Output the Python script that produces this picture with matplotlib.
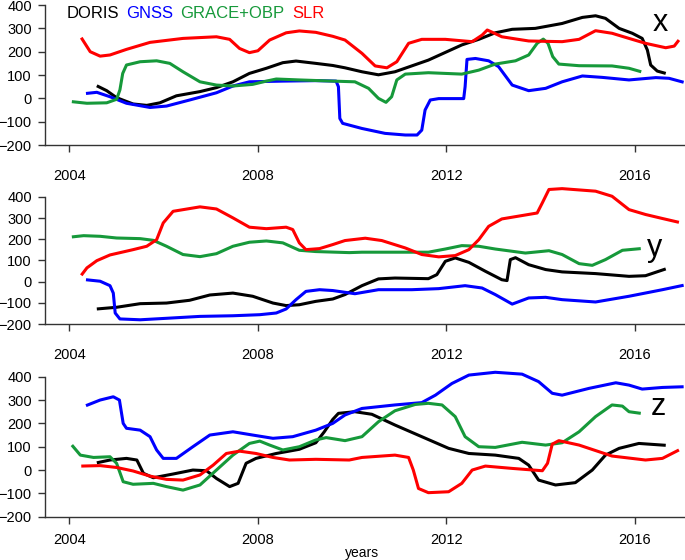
import matplotlib
matplotlib.use("Agg")
import matplotlib.pyplot as plt

plt.rcParams['font.family'] = ['Liberation Sans', 'DejaVu Sans']

# colours of the four techniques
C_DORIS = 'black'
C_GNSS = '#0000ff'
C_GRACE = '#16993a'
C_SLR = '#ff0000'

# ---------------- x component ----------------
x_slr_t = [2004.25, 2004.44, 2004.65, 2004.86, 2005.21, 2005.71, 2006.41, 2007.12, 2007.40, 2007.61,
           2007.82, 2008.0, 2008.25, 2008.6, 2008.88, 2009.23, 2009.59, 2009.85, 2010.21, 2010.49,
           2010.74, 2010.95, 2011.2, 2011.48, 2011.98, 2012.55, 2012.76, 2012.87, 2012.97, 2013.18,
           2013.75, 2014.46, 2014.82, 2015.17, 2015.52, 2015.88, 2016.23, 2016.66, 2016.84, 2016.94]
x_slr_v = [260, 200, 181, 186, 210, 240, 257, 264, 253, 214,
           196, 204, 250, 281, 289, 283, 266, 250, 193, 139,
           131, 157, 236, 253, 253, 243, 271, 293, 284, 264,
           246, 243, 253, 290, 279, 257, 236, 217, 224, 250]

x_doris_t = [2004.58, 2004.79, 2005.0, 2005.35, 2005.64, 2005.92, 2006.27, 2006.77, 2007.12, 2007.47,
             2007.82, 2008.18, 2008.53, 2008.81, 2009.23, 2009.59, 2009.85, 2010.21, 2010.56, 2010.91,
             2011.62, 2012.33, 2012.69, 2013.04, 2013.40, 2013.89, 2014.46, 2014.89, 2015.17, 2015.38,
             2015.67, 2015.95, 2016.16, 2016.27, 2016.34, 2016.48, 2016.66]
x_doris_v = [54, 33, 3, -24, -30, -19, 11, 29, 46, 71,
             107, 129, 153, 160, 150, 141, 131, 114, 101, 114,
             164, 229, 253, 281, 296, 300, 321, 347, 354, 343,
             300, 279, 257, 207, 143, 117, 107]

x_gnss_t = [2004.35, 2004.58, 2004.86, 2005.21, 2005.71, 2006.06, 2006.55, 2007.12, 2007.47, 2007.82,
            2008.53, 2009.23, 2009.66, 2009.71, 2009.74, 2009.80, 2010.21, 2010.70, 2011.13, 2011.38,
            2011.48, 2011.55, 2011.66, 2011.84, 2012.37, 2012.40, 2012.44, 2012.62, 2012.90, 2013.11,
            2013.40, 2013.75, 2014.11, 2014.46, 2014.89, 2015.31, 2015.88, 2016.45, 2016.73, 2017.04]
x_gnss_v = [21, 26, 7, -21, -39, -33, -7, 24, 53, 71,
            74, 76, 74, 50, -86, -107, -129, -150, -157, -157,
            -136, -50, -7, -1, -1, 50, 167, 171, 161, 136,
            57, 33, 43, 71, 96, 90, 79, 89, 86, 69]

x_grace_t = [2004.05, 2004.37, 2004.79, 2005.0, 2005.07, 2005.13, 2005.21, 2005.5, 2005.85, 2006.13,
             2006.41, 2006.77, 2007.12, 2007.47, 2007.89, 2008.18, 2008.39, 2008.88, 2009.59, 2010.06,
             2010.35, 2010.56, 2010.72, 2010.84, 2010.95, 2011.13, 2011.62, 2012.33, 2012.69, 2013.04,
             2013.47, 2013.75, 2013.93, 2014.06, 2014.16, 2014.26, 2014.39, 2014.82, 2015.52, 2015.88,
             2016.14]
x_grace_v = [-14, -21, -19, -4, 36, 107, 143, 157, 161, 150,
             114, 71, 57, 53, 60, 74, 83, 79, 74, 71,
             43, 0, -17, 7, 79, 104, 110, 104, 121, 147,
             161, 186, 236, 254, 236, 179, 147, 140, 139, 129,
             114]

# ---------------- y component ----------------
y_slr_t = [2004.25, 2004.37, 2004.58, 2004.86, 2005.35, 2005.64, 2005.85, 2005.99, 2006.20, 2006.77,
           2007.12, 2007.47, 2007.82, 2008.18, 2008.60, 2008.74, 2008.88, 2009.02, 2009.31, 2009.59,
           2009.85, 2010.28, 2010.63, 2011.13, 2011.48, 2011.84, 2012.19, 2012.48, 2012.69, 2012.90,
           2013.18, 2013.61, 2013.93, 2014.04, 2014.18, 2014.46, 2015.17, 2015.52, 2015.88, 2016.23,
           2016.59, 2016.94]
y_slr_v = [30, 65, 99, 126, 151, 167, 198, 277, 332, 353,
           343, 301, 257, 250, 257, 246, 183, 151, 156, 175,
           194, 205, 194, 159, 128, 117, 123, 151, 198, 261,
           296, 312, 324, 372, 435, 439, 427, 403, 340, 317,
           298, 280]

y_grace_t = [2004.05, 2004.30, 2004.65, 2005.0, 2005.50, 2005.78, 2006.06, 2006.41, 2006.77, 2007.12,
             2007.47, 2007.82, 2008.18, 2008.53, 2008.88, 2009.23, 2009.94, 2010.21, 2010.91, 2011.62,
             2011.98, 2012.33, 2012.69, 2013.04, 2013.68, 2014.18, 2014.46, 2014.82, 2015.10, 2015.38,
             2015.74, 2016.13]
y_grace_v = [211, 217, 214, 206, 203, 195, 167, 128, 118, 132,
             167, 186, 192, 183, 148, 142, 137, 139, 139, 139,
             154, 170, 167, 154, 135, 146, 128, 85, 77, 104,
             148, 156]

y_doris_t = [2004.58, 2005.0, 2005.50, 2006.06, 2006.55, 2006.98, 2007.47, 2007.89, 2008.32, 2008.60,
             2008.88, 2009.23, 2009.59, 2009.85, 2010.21, 2010.56, 2010.91, 2011.62, 2011.80, 2011.98,
             2012.19, 2012.48, 2012.83, 2013.18, 2013.29, 2013.36, 2013.47, 2013.75, 2014.11, 2014.46,
             2015.17, 2015.88, 2016.23, 2016.66]
y_doris_v = [-129, -121, -104, -101, -88, -63, -54, -69, -101, -113,
             -109, -93, -82, -61, -19, 13, 17, 14, 33, 96,
             112, 91, 49, 9, 5, 104, 113, 80, 57, 46,
             38, 25, 28, 60]

y_gnss_t = [2004.35, 2004.65, 2004.86, 2004.93, 2004.97, 2005.07, 2005.50, 2006.06, 2006.77, 2007.47,
            2008.04, 2008.39, 2008.60, 2008.81, 2009.02, 2009.31, 2009.59, 2010.06, 2010.56, 2011.27,
            2011.84, 2012.40, 2012.76, 2013.04, 2013.40, 2013.75, 2014.11, 2014.46, 2015.17, 2015.88,
            2016.59, 2017.04]
y_gnss_v = [9, 2, -19, -54, -148, -176, -180, -173, -164, -161,
            -156, -148, -129, -85, -46, -38, -42, -57, -38, -38,
            -33, -19, -30, -61, -106, -77, -74, -85, -96, -69,
            -38, -17]

# ---------------- z component ----------------
z_gnss_t = [2004.35, 2004.65, 2004.93, 2005.06, 2005.14, 2005.21, 2005.50, 2005.71, 2005.85, 2005.99,
            2006.27, 2006.62, 2006.98, 2007.47, 2007.89, 2008.32, 2008.74, 2009.23, 2009.59, 2009.85,
            2010.21, 2010.91, 2011.48, 2011.77, 2012.12, 2012.48, 2013.04, 2013.61, 2013.96, 2014.25,
            2014.46, 2015.03, 2015.60, 2015.88, 2016.16, 2016.59, 2017.04]
z_gnss_v = [276, 300, 314, 300, 200, 179, 171, 143, 86, 50,
            50, 100, 150, 164, 150, 136, 143, 171, 200, 236,
            264, 279, 289, 321, 371, 407, 419, 411, 379, 329,
            321, 350, 374, 364, 347, 354, 357]

z_grace_t = [2004.05, 2004.23, 2004.51, 2004.86, 2005.0, 2005.14, 2005.35, 2005.78, 2006.06, 2006.41,
             2006.77, 2007.12, 2007.47, 2007.82, 2008.04, 2008.25, 2008.53, 2008.88, 2009.23, 2009.45,
             2009.85, 2010.21, 2010.56, 2010.91, 2011.34, 2011.62, 2011.91, 2012.19, 2012.40, 2012.69,
             2013.04, 2013.61, 2014.11, 2014.46, 2014.82, 2015.17, 2015.52, 2015.74, 2015.88, 2016.13]
z_grace_v = [107, 64, 54, 57, 29, -50, -61, -57, -71, -86,
             -64, 0, 64, 114, 124, 107, 86, 100, 129, 139,
             126, 143, 207, 254, 281, 286, 279, 229, 143, 100,
             97, 119, 107, 117, 164, 229, 279, 274, 250, 243]

z_doris_t = [2004.58, 2004.86, 2005.21, 2005.43, 2005.57, 2005.78, 2006.20, 2006.62, 2006.91, 2007.12,
             2007.40, 2007.58, 2007.75, 2007.96, 2008.39, 2008.88, 2009.23, 2009.41, 2009.59, 2009.71,
             2010.06, 2010.42, 2010.91, 2011.48, 2012.05, 2012.48, 2013.04, 2013.54, 2013.75, 2013.96,
             2014.32, 2014.74, 2015.10, 2015.38, 2015.67, 2016.09, 2016.66]
z_doris_v = [31, 43, 50, 43, -14, -33, -17, 0, -3, -36,
             -71, -57, 29, 50, 71, 89, 117, 164, 217, 243,
             250, 239, 193, 143, 93, 71, 64, 50, 21, -43,
             -64, -54, 0, 64, 93, 114, 106]

z_slr_t = [2004.25, 2004.65, 2005.0, 2005.35, 2005.71, 2006.06, 2006.41, 2006.77, 2007.05, 2007.33,
           2007.61, 2007.96, 2008.32, 2008.67, 2009.23, 2009.94, 2010.21, 2010.91, 2011.20, 2011.30,
           2011.41, 2011.62, 2012.05, 2012.33, 2012.55, 2012.83, 2013.40, 2014.04, 2014.15, 2014.25,
           2014.39, 2014.82, 2015.52, 2016.23, 2016.59, 2016.94]
z_slr_v = [17, 19, 11, -4, -26, -40, -43, -21, 21, 71,
           81, 71, 54, 43, 46, 43, 54, 64, 54, 0,
           -79, -97, -93, -57, 0, 17, 7, -3, 29, 111,
           126, 107, 60, 43, 50, 86]

panels = [
    ('x', [(x_doris_t, x_doris_v, C_DORIS), (x_gnss_t, x_gnss_v, C_GNSS),
           (x_grace_t, x_grace_v, C_GRACE), (x_slr_t, x_slr_v, C_SLR)]),
    ('y', [(y_doris_t, y_doris_v, C_DORIS), (y_gnss_t, y_gnss_v, C_GNSS),
           (y_grace_t, y_grace_v, C_GRACE), (y_slr_t, y_slr_v, C_SLR)]),
    ('z', [(z_doris_t, z_doris_v, C_DORIS), (z_gnss_t, z_gnss_v, C_GNSS),
           (z_grace_t, z_grace_v, C_GRACE), (z_slr_t, z_slr_v, C_SLR)]),
]

years = [2004, 2008, 2012, 2016]
yticks = [-200, -100, 0, 100, 200, 300, 400]

# axes boxes (left, bottom, width, height) in figure fraction, and x tick label pad
boxes = [(0.0657, 0.741, 0.933, 0.250, 12),
         (0.0657, 0.4214, 0.933, 0.227, 12),
         (0.0657, 0.0773, 0.933, 0.250, 6.5)]
comp_pos = [(660, 23), (655, 248), (658, 407)]

fig = plt.figure(figsize=(6.85, 5.6), dpi=100)

for (name, series), (l, b, w, h, xpad), (cx, cy) in zip(panels, boxes, comp_pos):
    ax = fig.add_axes([l, b, w, h])
    for t, v, c in series:
        ax.plot(t, v, color=c, lw=2.2, solid_capstyle='butt', solid_joinstyle='round', clip_on=False)
    ax.set_xlim(2003.48, 2017.05)
    ax.set_ylim(-200, 400)
    ax.set_xticks(years)
    ax.set_yticks(yticks)
    for s in ['top', 'right']:
        ax.spines[s].set_visible(False)
    for s in ['left', 'bottom']:
        ax.spines[s].set_color('#333333')
        ax.spines[s].set_linewidth(1.0)
    ax.tick_params(axis='x', length=5, width=1, color='#333333', pad=xpad, labelsize=10.5)
    ax.tick_params(axis='y', length=5, width=1, color='#333333', pad=4.5, labelsize=10.5)
    fig.text(cx / 685, 1 - cy / 560, name, fontsize=22, ha='center', va='center')

fig.text(362 / 685, 1 - 553 / 560, 'years', fontsize=10, ha='center', va='center')

# legend words across the top panel
for label, px, c in [('DORIS', 67, C_DORIS), ('GNSS', 126, C_GNSS),
                     ('GRACE+OBP', 180, C_GRACE), ('SLR', 292, C_SLR)]:
    fig.text(px / 685, 1 - 14 / 560, label, color=c, fontsize=12, ha='left', va='center')

fig.savefig('out.png', dpi=100)
